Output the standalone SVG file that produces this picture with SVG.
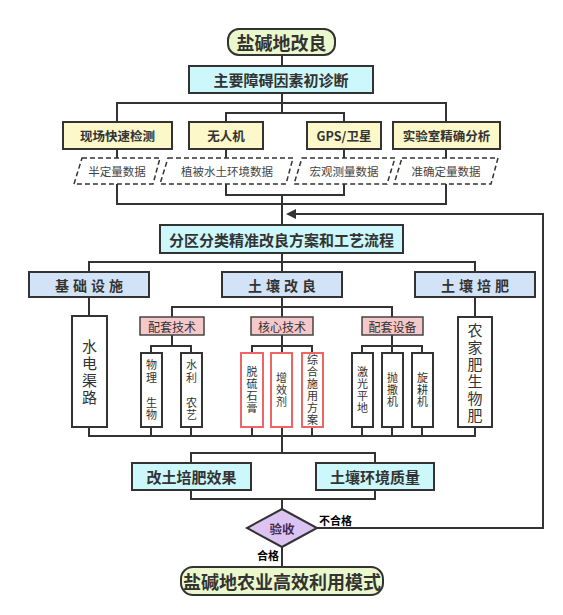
<svg xmlns="http://www.w3.org/2000/svg" width="563" height="615" viewBox="0 0 563 615">
<style>
.ln{fill:none;stroke:#333;stroke-width:2}
.bx{stroke:#333;stroke-width:2}
.term{fill:#eaf8cc}
.cyan{fill:#cdf8fb}
.yel{fill:#fcf8c9}
.blue{fill:#d3e3f7}
.pink{fill:#f6c8ca;stroke:#444;stroke-width:1.5}
.wht{fill:#fff}
.red{fill:#fff;stroke:#f26464;stroke-width:2}
.para{fill:#fff;stroke:#333;stroke-width:1.5;stroke-dasharray:5 3}
.dia{fill:#dcc4f2;stroke:#333;stroke-width:2}
text{font-family:"Noto Sans CJK SC","Noto Sans",sans-serif;text-anchor:middle;dominant-baseline:central;fill:#333}
.b17{font-size:18px;font-weight:bold}
.b15{font-size:15px;font-weight:bold}
.b12{font-size:12.5px;font-weight:bold}
.b13{font-size:14px;font-weight:bold;letter-spacing:4px}
.n11{font-size:11.5px;fill:#444}
.n12{font-size:12px;fill:#333}
.vt{writing-mode:vertical-rl;text-orientation:upright}
.v16{font-size:15px;letter-spacing:2px}
.v12{font-size:11px;letter-spacing:1.5px}
.v10{font-size:11px;letter-spacing:1px}
.lab{font-size:11px;font-weight:bold;fill:#000}
</style>
<defs>
<marker id="arr" viewBox="0 0 10 10" refX="8" refY="5" markerWidth="5" markerHeight="5" orient="auto-start-reverse">
<path d="M0,0 L10,5 L0,10 z" fill="#333"/>
</marker>
</defs>

<g id="connectors">
<path class="ln" d="M282,55 V66"/>
<path class="ln" d="M282,93 V113 M117,122 V103 H446 V122 M226,122 V113 H344 V122"/>
<path class="ln" d="M117,149 V158 M226,149 V158 M344,149 V158 M446,149 V158"/>
<path class="ln" d="M117,184 V204 H446 V184 M226,184 V195 H344 V184 M282,195 V225"/>
<path class="ln" d="M317,528 H543 V214 H288" marker-end="url(#arr)"/>
<path class="ln" d="M282,253 V272 M89,272 V262 H475 V272"/>
<path class="ln" d="M89,297 V316 M475,297 V317 M282,297 V317 M172,317 V307 H392 V317"/>
<path class="ln" d="M172,335 V346 M151,353 V346 H191 V353"/>
<path class="ln" d="M282,335 V353 M252,353 V346 H312 V353"/>
<path class="ln" d="M392,335 V353 M362,353 V346 H422 V353"/>
<path class="ln" d="M89,427 V436 H475 V427 M151,427 V436 M191,427 V436 M252,427 V436 M282,427 V453 M312,427 V436 M362,427 V436 M392,427 V436 M422,427 V436"/>
<path class="ln" d="M191,463 V453 H375 V463"/>
<path class="ln" d="M191,490 V499 H375 V490 M282,499 V509"/>
<path class="ln" d="M282,547 V567"/>
</g>

<g id="n-start"><rect class="bx term" x="228" y="29" width="107" height="26" rx="11"/><text class="b17" x="281.5" y="42">盐碱地改良</text></g>
<g id="n-diag"><rect class="bx cyan" x="189" y="66" width="184" height="27"/><text class="b15" x="281" y="79.5">主要障碍因素初诊断</text></g>

<g id="n-field"><rect class="bx yel" x="63" y="122" width="109" height="27"/><text class="b12" x="117.5" y="135.5">现场快速检测</text></g>
<g id="n-uav"><rect class="bx yel" x="189" y="122" width="74" height="27"/><text class="b12" x="226" y="135.5">无人机</text></g>
<g id="n-gps"><rect class="bx yel" x="307" y="122" width="74" height="27"/><text class="b12" x="344" y="135.5">GPS/卫星</text></g>
<g id="n-lab"><rect class="bx yel" x="393" y="122" width="107" height="27"/><text class="b12" x="446.5" y="135.5">实验室精确分析</text></g>

<g id="d-semi"><polygon class="para" points="82,158 160,158 153,184 74,184"/><text class="n11" x="117" y="171">半定量数据</text></g>
<g id="d-veg"><polygon class="para" points="168,158 293,158 286,184 160,184"/><text class="n11" x="227" y="171">植被水土环境数据</text></g>
<g id="d-macro"><polygon class="para" points="302,158 395,158 387,184 294,184"/><text class="n11" x="344" y="171">宏观测量数据</text></g>
<g id="d-exact"><polygon class="para" points="402,158 498,158 491,184 394,184"/><text class="n11" x="446" y="171">准确定量数据</text></g>

<g id="n-plan"><rect class="bx cyan" x="160" y="225" width="243" height="28"/><text class="b15" x="281.5" y="239">分区分类精准改良方案和工艺流程</text></g>

<g id="n-infra"><rect class="bx blue" x="29" y="272" width="120" height="25"/><text class="b13" x="91" y="284.5">基础设施</text></g>
<g id="n-soil"><rect class="bx blue" x="222" y="272" width="120" height="25"/><text class="b13" x="284" y="284.5">土壤改良</text></g>
<g id="n-fert"><rect class="bx blue" x="415" y="272" width="120" height="25"/><text class="b13" x="477" y="284.5">土壤培肥</text></g>

<g id="n-water"><rect class="bx wht" x="72" y="316" width="35" height="111"/><text class="vt v16" x="89.5" y="372.5">水电渠路</text></g>
<g id="n-manure"><rect class="bx wht" x="458" y="317" width="34" height="110"/><text class="vt v16" x="475" y="373.5">农家肥生物肥</text></g>

<g id="n-suptech"><rect class="pink" x="140" y="317" width="64" height="18"/><text class="n12" x="172" y="326">配套技术</text></g>
<g id="n-core"><rect class="pink" x="251" y="317" width="62" height="18"/><text class="n12" x="282" y="326">核心技术</text></g>
<g id="n-supeq"><rect class="pink" x="362" y="317" width="61" height="18"/><text class="n12" x="392.5" y="326">配套设备</text></g>

<g id="n-phys"><rect class="bx wht" x="141" y="353" width="21" height="74"/><text class="vt v12" x="151.5" y="391">物理　生物</text></g>
<g id="n-hydro"><rect class="bx wht" x="181" y="353" width="21" height="74"/><text class="vt v12" x="191.5" y="391">水利　农艺</text></g>

<g id="n-gypsum"><rect class="red" x="241" y="353" width="22" height="74"/><text class="vt v10" x="252" y="390.5">脱硫石膏</text></g>
<g id="n-synergy"><rect class="red" x="271" y="353" width="21" height="74"/><text class="vt v10" x="281.5" y="390.5">增效剂</text></g>
<g id="n-combo"><rect class="red" x="302" y="353" width="21" height="74"/><text class="vt v10" x="312.5" y="390.5">综合施用方案</text></g>

<g id="n-laser"><rect class="bx wht" x="352" y="353" width="21" height="74"/><text class="vt v10" x="362.5" y="390.5">激光平地</text></g>
<g id="n-spread"><rect class="bx wht" x="382" y="353" width="21" height="74"/><text class="vt v10" x="392.5" y="390.5">抛撒机</text></g>
<g id="n-rotary"><rect class="bx wht" x="412" y="353" width="21" height="74"/><text class="vt v10" x="422.5" y="390.5">旋耕机</text></g>

<g id="n-effect"><rect class="bx cyan" x="132" y="463" width="119" height="27"/><text class="b15" x="191.5" y="476.5">改土培肥效果</text></g>
<g id="n-quality"><rect class="bx cyan" x="316" y="463" width="118" height="27"/><text class="b15" x="375" y="476.5">土壤环境质量</text></g>

<g id="n-check"><polygon class="dia" points="282,509 317,528 282,547 247,528"/><text class="b12" x="282" y="528" style="fill:#442a4e">验收</text></g>
<g id="labels"><text class="lab" x="335.5" y="520">不合格</text><text class="lab" x="268" y="555">合格</text></g>

<g id="n-end"><rect class="bx term" x="181" y="567" width="202" height="28" rx="12"/><text class="b17" x="282" y="581">盐碱地农业高效利用模式</text></g>
</svg>
